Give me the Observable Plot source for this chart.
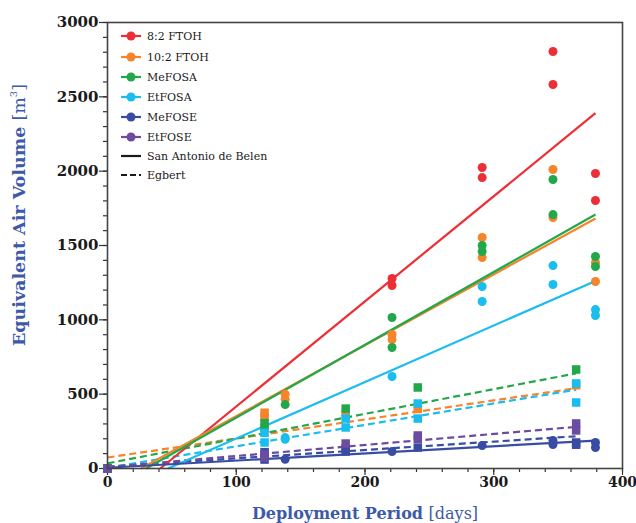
<!DOCTYPE html>
<html>
<head>
<meta charset="utf-8">
<script src="https://cdn.jsdelivr.net/npm/d3@7"></script>
<script src="https://cdn.jsdelivr.net/npm/@observablehq/plot@0.6"></script>
<style>
  html, body { margin: 0; padding: 0; background: white; }
  #chart { width: 636px; height: 523px; }
</style>
</head>
<body>
<div id="chart"></div>
<script>
// ---- data ----
const compounds = ["8:2 FTOH", "10:2 FTOH", "MeFOSA", "EtFOSA", "MeFOSE", "EtFOSE"];
const colors = ["#ec2f36", "#f5842a", "#22a84b", "#1bbcee", "#394ca3", "#6b4ca0"];
const sites = ["San Antonio de Belen", "Egbert"];
const xTicks = [0, 100, 200, 300, 400];
const yTicks = [0, 500, 1000, 1500, 2000, 2500, 3000];

// San Antonio de Belen (circles): [day, volume]
const sabFTOH82 = [[0,0],[221,1278],[221,1231],[291,2025],[291,1957],[346,2805],[346,2583],[379,1984],[379,1803]];
const sabFTOH102 = [[0,0],[138,500],[138,465],[221,901],[221,868],[291,1554],[291,1419],[346,2011],[346,1688],[379,1386],[379,1258]];
const sabMeFOSA = [[0,0],[138,430],[221,1016],[221,814],[291,1500],[291,1460],[346,1944],[346,1708],[379,1426],[379,1359]];
const sabEtFOSA = [[0,0],[138,208],[138,196],[221,619],[291,1224],[291,1123],[346,1365],[346,1238],[379,1069],[379,1029]];
const sabMeFOSE = [[0,0],[138,62],[221,114],[291,155],[346,188],[346,161],[379,175],[379,141]];
const sabEtFOSE = [[0,0]];

// Egbert (squares): [day, volume]
const egbFTOH102 = [[0,0],[122,375],[122,345],[185,365],[241,400],[364,560]];
const egbMeFOSA = [[0,0],[122,305],[122,275],[185,403],[241,545],[364,666]];
const egbEtFOSA = [[0,0],[122,240],[122,175],[185,336],[185,276],[241,437],[241,336],[364,572],[364,444]];
const egbMeFOSE = [[0,0],[122,110],[122,60],[185,135],[185,114],[241,141],[364,175],[364,160]];
const egbEtFOSE = [[0,0],[122,95],[122,75],[185,168],[241,222],[241,200],[364,303],[364,256]];

// fitted lines: [compound, site, day1, vol1, day2, vol2]
const fitLines = [
  ["10:2 FTOH", "Egbert", 0, 74, 364, 540],
  ["MeFOSA", "Egbert", 0, 35, 364, 640],
  ["EtFOSA", "Egbert", 0, 5, 364, 530],
  ["MeFOSE", "Egbert", 0, 12, 364, 217],
  ["EtFOSE", "Egbert", 0, 10, 364, 280],
  ["8:2 FTOH", "San Antonio de Belen", 41, 0, 379, 2390],
  ["10:2 FTOH", "San Antonio de Belen", 26, 0, 379, 1682],
  ["MeFOSA", "San Antonio de Belen", 30, 0, 379, 1708],
  ["EtFOSA", "San Antonio de Belen", 47, 0, 379, 1262],
  ["MeFOSE", "San Antonio de Belen", 0, 5, 379, 188]
];

// ---- build tables ----
const toRows = (arr, compound, site) => arr.map(([day, vol]) => ({day, vol, compound, site}));
const circles = [
  ...toRows(sabFTOH82, "8:2 FTOH", sites[0]),
  ...toRows(sabFTOH102, "10:2 FTOH", sites[0]),
  ...toRows(sabMeFOSA, "MeFOSA", sites[0]),
  ...toRows(sabEtFOSA, "EtFOSA", sites[0]),
  ...toRows(sabMeFOSE, "MeFOSE", sites[0]),
  ...toRows(sabEtFOSE, "EtFOSE", sites[0])
];
const squares = [
  ...toRows(egbFTOH102, "10:2 FTOH", sites[1]),
  ...toRows(egbMeFOSA, "MeFOSA", sites[1]),
  ...toRows(egbEtFOSA, "EtFOSA", sites[1]),
  ...toRows(egbMeFOSE, "MeFOSE", sites[1]),
  ...toRows(egbEtFOSE, "EtFOSE", sites[1])
];
const fits = fitLines.map(([compound, site, x1, y1, x2, y2]) => ({compound, site, x1, y1, x2, y2}));

const serif = "'DejaVu Serif', serif";
const fmt = d3.format("d");

const plot = Plot.plot({
  width: 636,
  height: 523,
  marginLeft: 107,
  marginRight: 14,
  marginTop: 22,
  marginBottom: 55,
  style: {fontFamily: serif, fontSize: "15px", fontWeight: "bold", color: "#1a1a1a", background: "white", overflow: "visible"},
  x: {domain: [0, 400]},
  y: {domain: [0, 3000]},
  color: {domain: compounds, range: colors},
  marks: [
    Plot.axisX({ticks: d3.range(0, 401, 20), tickFormat: () => "", tickSize: 4, stroke: "#333", strokeWidth: 1.2, label: null}),
    Plot.axisX({ticks: xTicks, tickFormat: fmt, tickSize: 7, tickPadding: 2, fontSize: 14, stroke: "#333", strokeWidth: 1.2, label: null}),
    Plot.axisY({ticks: d3.range(0, 3001, 100), tickFormat: () => "", tickSize: 4, stroke: "#333", strokeWidth: 1.2, label: null}),
    Plot.axisY({ticks: yTicks, tickFormat: fmt, tickSize: 8, tickPadding: 1, stroke: "#333", strokeWidth: 1.2, label: null}),
    Plot.link(fits.filter(d => d.site === "Egbert"), {
      x1: "x1", y1: "y1", x2: "x2", y2: "y2", stroke: "compound", strokeWidth: 2.2, strokeDasharray: "7,4"
    }),
    Plot.link(fits.filter(d => d.site !== "Egbert"), {
      x1: "x1", y1: "y1", x2: "x2", y2: "y2", stroke: "compound", strokeWidth: 2.2
    }),
    Plot.dot(squares, {x: "day", y: "vol", fill: "compound", symbol: "square", r: 4.8}),
    Plot.dot(circles, {x: "day", y: "vol", fill: "compound", r: 4.5}),
    Plot.frame({stroke: "#444", strokeWidth: 1.6})
  ]
});

document.getElementById("chart").appendChild(plot);

// ---- axis titles & legend ----
const svg = d3.select(plot);
const titleColor = "#3d59a9";

const yt = svg.append("text")
  .attr("transform", "translate(25,215) rotate(-90)")
  .attr("text-anchor", "middle")
  .attr("fill", titleColor)
  .style("font-family", serif)
  .style("font-size", "17.5px");
yt.append("tspan").attr("font-weight", "bold").text("Equivalent Air Volume ");
yt.append("tspan").attr("font-weight", "normal").text("[m");
yt.append("tspan").attr("font-weight", "normal").attr("font-size", "10px").attr("dy", "-8").text("3");
yt.append("tspan").attr("font-weight", "normal").attr("dy", "8").text("]");

const xt = svg.append("text")
  .attr("x", 365).attr("y", 519)
  .attr("text-anchor", "middle")
  .attr("fill", titleColor)
  .style("font-family", serif)
  .style("font-size", "16px");
xt.append("tspan").attr("font-weight", "bold").text("Deployment Period ");
xt.append("tspan").attr("font-weight", "normal").text("[days]");

const legendRows = [36, 57, 77, 97, 117, 137, 156, 175];
const lg = svg.append("g")
  .attr("text-anchor", "start")
  .style("font-family", serif)
  .style("font-size", "11px");
compounds.forEach((c, i) => {
  const y = legendRows[i];
  lg.append("line").attr("x1", 121).attr("x2", 141).attr("y1", y).attr("y2", y)
    .attr("stroke", colors[i]).attr("stroke-width", 2.2);
  lg.append("circle").attr("cx", 131).attr("cy", y).attr("r", 4.5).attr("fill", colors[i]);
  lg.append("text").attr("x", 147).attr("y", y).attr("dy", "0.35em").attr("fill", "#1a1a1a")
    .attr("text-anchor", "start").attr("font-weight", "normal").text(c);
});
sites.forEach((s, i) => {
  const y = legendRows[6 + i];
  lg.append("line").attr("x1", 121).attr("x2", 141).attr("y1", y).attr("y2", y)
    .attr("stroke", "#1a1a1a").attr("stroke-width", 2.2)
    .attr("stroke-dasharray", i === 1 ? "6,3" : null);
  lg.append("text").attr("x", 147).attr("y", y).attr("dy", "0.35em").attr("fill", "#1a1a1a")
    .attr("text-anchor", "start").attr("font-weight", "normal").text(s);
});
</script>
</body>
</html>
